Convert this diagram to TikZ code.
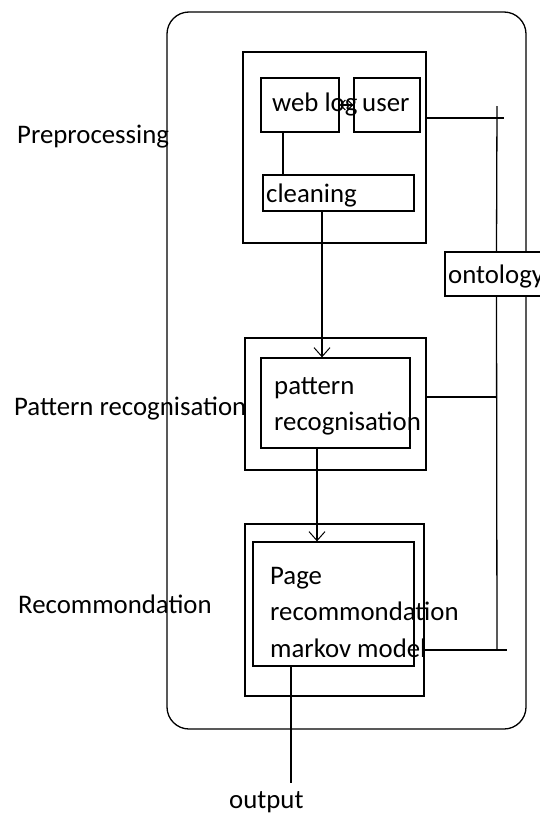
\documentclass[tikz,border=0pt]{standalone}
\usepackage{fontspec}
\setmainfont{Carlito}
\usetikzlibrary{arrows.meta}
\begin{document}
\begin{tikzpicture}[x=1pt,y=-1pt,
  every node/.style={font=\fontsize{26.8}{36}\selectfont, text=black},
  box/.style={draw, line width=1.3pt, inner sep=0pt, minimum width=#1},
  lbl/.style={anchor=base west, inner sep=0pt},
  conn/.style={line width=1.3pt},
  tipped/.style={line width=1.3pt, -{Straight Barb[length=9pt,width=16pt,line width=1pt]}},
  dbl/.style={line width=1.1pt, {Straight Barb[length=5pt,width=10pt]}-{Straight Barb[length=5pt,width=10pt]}}
]
\useasboundingbox (0,0) rectangle (540,814);
\begin{scope}
\clip (0,0) rectangle (540,814);
% outer frame
\node[box=359pt, minimum height=717pt, rounded corners=22pt] (outer) at (346.5,370.5) {};
% preprocessing stage
\node[box=183pt, minimum height=191pt] (pre) at (334.5,147.5) {};
\node[box=78pt, minimum height=54pt] (weblog) at (300,105) {};
\node[box=66pt, minimum height=54pt] (user) at (387,105) {};
\node[box=151pt, minimum height=36pt] (clean) at (338.5,193) {};
% pattern stage
\node[box=181pt, minimum height=132pt] (patout) at (335.5,404) {};
\node[box=149pt, minimum height=90pt] (patin) at (335.5,403) {};
% recommendation stage
\node[box=179pt, minimum height=172pt] (recout) at (334.5,610) {};
\node[box=161pt, minimum height=124pt] (recin) at (333.5,604) {};
% ontology
\node[box=103pt, minimum height=44pt, fill=white] (onto) at (496.5,274) {};

% texts
\node[lbl] (tweb) at (272,111) {web log};
\node[lbl] (tuser) at (362,111) {user};
\node[lbl] (tclean) at (266,202) {cleaning};
\node[lbl] (tpat1) at (274,394) {pattern};
\node[lbl] (tpat2) at (274,430) {recognisation};
\node[lbl] (trec1) at (270,584) {Page};
\node[lbl] (trec2) at (270,620) {recommondation};
\node[lbl] (trec3) at (270,657) {markov model};
\node[lbl] (tonto) at (448,283) {ontology};
\node[lbl] (tpre) at (17,143) {Preprocessing};
\node[lbl] (tpat) at (14,415) {Pattern recognisation};
\node[lbl] (trecs) at (18,613) {Recommondation};
\node[lbl] (tout) at (229,808) {output};

% coordinates
\coordinate (bustop) at (497,106);
\coordinate (userend) at (504,118);
\coordinate (patjoin) at (497,397);
\coordinate (recend) at (507,650);
\coordinate (busbot) at (497,650);
\coordinate (outend) at (291,783);

% connectors
\draw[dbl] (weblog.east) -- (user.west);
\draw[conn] ([xshift=-17pt]weblog.south) -- ([xshift=-17pt]weblog.south |- clean.north);
\draw[tipped] ([xshift=-16.5pt]clean.south) -- ([xshift=-16.5pt]clean.south |- patin.north);
\draw[tipped] ([xshift=-18.5pt]patin.south) -- ([xshift=-18.5pt]patin.south |- recin.north);
\draw[conn] ([xshift=-42.5pt]recin.south) -- (outend);
\draw[conn] (pre.east |- userend) -- (userend);
\draw[conn] (bustop) -- (onto.north);
\draw[conn] (onto.south) -- (busbot);
\draw[conn] (patout.east |- patjoin) -- (patjoin);
\draw[conn] ([xshift=-2pt]recout.east |- recend) -- (recend);
\end{scope}
\end{tikzpicture}
\end{document}
